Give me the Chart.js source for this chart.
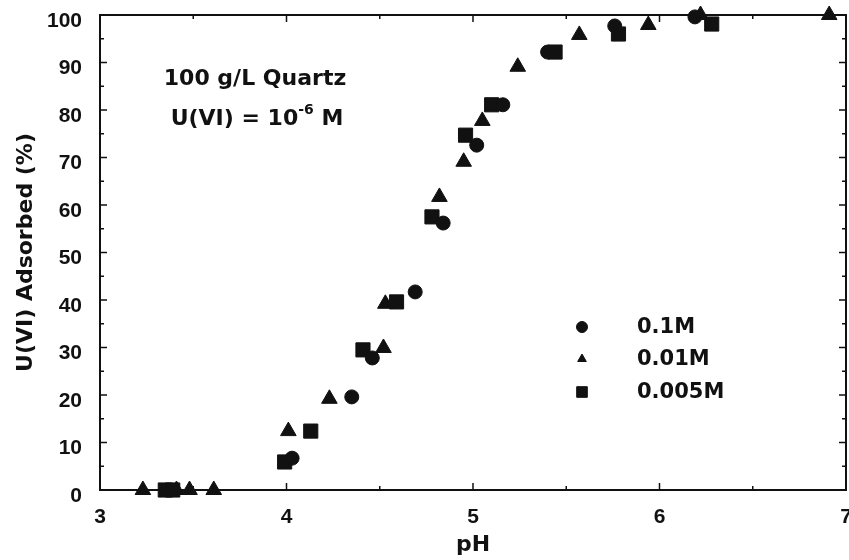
<!DOCTYPE html>
<html>
<head>
<meta charset="utf-8">
<script src="https://cdn.jsdelivr.net/npm/chart.js@4.4.1/dist/chart.umd.min.js"></script>
<style>
  body { margin: 0; background: #fff; }
  canvas { display: block; }
</style>
</head>
<body>
<canvas id="uChart" width="849" height="560"></canvas>
<script>
// U(VI) sorption edges on quartz, three ionic strengths
const ph01M = [4.03, 4.35, 4.46, 4.69, 4.84, 5.02, 5.16, 5.40, 5.76, 6.19];
const ads01M = [6.7, 19.6, 27.8, 41.7, 56.2, 72.6, 81.1, 92.2, 97.7, 99.6];

const ph001M = [3.23, 3.41, 3.48, 3.61, 4.01, 4.23, 4.52, 4.53, 4.82, 4.95, 5.05, 5.24, 5.57, 5.94, 6.22, 6.91];
const ads001M = [0, 0, 0, 0, 12.4, 19.2, 29.9, 39.2, 61.7, 69.1, 77.7, 89.1, 95.8, 97.9, 100, 100];

const ph0005M = [3.35, 3.39, 3.99, 4.13, 4.41, 4.59, 4.78, 4.96, 5.10, 5.44, 5.78, 6.28];
const ads0005M = [0, 0, 5.9, 12.4, 29.5, 39.6, 57.5, 74.7, 81.1, 92.2, 96.0, 98.1];

const seriesLabels = ['0.1M', '0.01M', '0.005M'];
const xTicks = [3, 4, 5, 6, 7];
const yTicks = [0, 10, 20, 30, 40, 50, 60, 70, 80, 90, 100];

const ink = '#111';

function toPoints(xs, ys) {
    return xs.map((x, i) => ({ x: x, y: ys[i] }));
}

// box around the plot with inward tick marks on all four sides
const framePlugin = {
    id: 'frame',
    afterDraw(chart) {
        const { ctx, chartArea: a, scales } = chart;
        ctx.save();
        ctx.strokeStyle = ink;
        ctx.lineWidth = 2;
        ctx.strokeRect(a.left, a.top, a.right - a.left, a.bottom - a.top);
        ctx.lineWidth = 1.5;
        for (let v = 0; v <= 100; v += 5) {
            const py = scales.y.getPixelForValue(v);
            const len = v % 10 === 0 ? 7 : 4;
            ctx.beginPath();
            ctx.moveTo(a.left, py); ctx.lineTo(a.left + len, py);
            ctx.moveTo(a.right, py); ctx.lineTo(a.right - len, py);
            ctx.stroke();
        }
        for (let v = 3; v <= 7; v += 0.5) {
            const px = scales.x.getPixelForValue(v);
            const len = Number.isInteger(v) ? 7 : 4;
            ctx.beginPath();
            ctx.moveTo(px, a.bottom); ctx.lineTo(px, a.bottom - len);
            ctx.moveTo(px, a.top); ctx.lineTo(px, a.top + len);
            ctx.stroke();
        }
        ctx.restore();
    }
};

// sample description and the marker key
const notesPlugin = {
    id: 'notes',
    afterDraw(chart) {
        const ctx = chart.ctx;
        ctx.save();
        ctx.fillStyle = ink;
        ctx.textBaseline = 'middle';
        ctx.font = 'bold 22px "DejaVu Sans"';
        ctx.textAlign = 'center';
        ctx.fillText('100 g/L Quartz', 255, 79);

        ctx.textAlign = 'left';
        const base = 'U(VI) = 10';
        const sup = '-6';
        const tail = ' M';
        ctx.font = 'bold 22px "DejaVu Sans"';
        const wBase = ctx.measureText(base).width;
        const wTail = ctx.measureText(tail).width;
        ctx.font = 'bold 14px "DejaVu Sans"';
        const wSup = ctx.measureText(sup).width;
        let x = 257 - (wBase + wSup + wTail) / 2;
        ctx.font = 'bold 22px "DejaVu Sans"';
        ctx.fillText(base, x, 119);
        x += wBase;
        ctx.font = 'bold 14px "DejaVu Sans"';
        ctx.fillText(sup, x, 110);
        x += wSup;
        ctx.font = 'bold 22px "DejaVu Sans"';
        ctx.fillText(tail, x, 119);

        // key
        const keyY = [327, 359, 392];
        const keyStyle = [
            { pointStyle: 'circle', radius: 5.5 },
            { pointStyle: 'triangle', radius: 5 },
            { pointStyle: 'rect', radius: 7.5 }
        ];
        ctx.font = 'bold 21px "DejaVu Sans"';
        seriesLabels.forEach((label, i) => {
            ctx.fillStyle = ink;
            ctx.strokeStyle = ink;
            ctx.lineWidth = 1;
            Chart.helpers.drawPoint(ctx, {
                pointStyle: keyStyle[i].pointStyle,
                radius: keyStyle[i].radius,
                rotation: 0,
                borderWidth: 1
            }, 582, keyY[i]);
            ctx.fillText(label, 637, keyY[i] + 1);
        });
        ctx.restore();
    }
};

new Chart(document.getElementById('uChart'), {
    type: 'scatter',
    data: {
        datasets: [{
            label: seriesLabels[0],
            data: toPoints(ph01M, ads01M),
            pointStyle: 'circle',
            pointRadius: 7,
            backgroundColor: ink,
            borderColor: ink,
            clip: false
        }, {
            label: seriesLabels[1],
            data: toPoints(ph001M, ads001M),
            pointStyle: 'triangle',
            pointRadius: 9,
            backgroundColor: ink,
            borderColor: ink,
            clip: false
        }, {
            label: seriesLabels[2],
            data: toPoints(ph0005M, ads0005M),
            pointStyle: 'rect',
            pointRadius: 10,
            backgroundColor: ink,
            borderColor: ink,
            clip: false
        }]
    },
    options: {
        responsive: false,
        animation: false,
        layout: { autoPadding: false, padding: { left: 0, right: 3, top: 15, bottom: 0 } },
        plugins: {
            legend: { display: false },
            tooltip: { enabled: false }
        },
        scales: {
            x: {
                type: 'linear',
                min: 3,
                max: 7,
                afterBuildTicks: (scale) => { scale.ticks = xTicks.map(v => ({ value: v })); },
                afterFit: (scale) => {
                    scale.height = 70;
                    scale.paddingLeft = 0;
                    scale.paddingRight = 0;
                },
                grid: { display: false, drawTicks: false },
                border: { display: false },
                ticks: {
                    padding: 15,
                    color: ink,
                    font: { family: '"Liberation Sans"', size: 21, weight: 'bold' }
                },
                title: {
                    display: true,
                    text: 'pH',
                    color: ink,
                    padding: { top: 0, bottom: 2 },
                    font: { family: '"DejaVu Sans"', size: 22, weight: 'bold' }
                }
            },
            y: {
                min: 0,
                max: 100,
                afterBuildTicks: (scale) => { scale.ticks = yTicks.map(v => ({ value: v })); },
                afterFit: (scale) => {
                    scale.width = 100;
                    scale.paddingTop = 0;
                    scale.paddingBottom = 0;
                },
                grid: { display: false, drawTicks: false },
                border: { display: false },
                ticks: {
                    padding: 18,
                    labelOffset: 6,
                    color: ink,
                    font: { family: '"Liberation Sans"', size: 21, weight: 'bold' }
                },
                title: {
                    display: true,
                    text: 'U(VI) Adsorbed (%)',
                    color: ink,
                    padding: { top: 13, bottom: 0 },
                    font: { family: '"DejaVu Sans"', size: 22, weight: 'bold' }
                }
            }
        }
    },
    plugins: [framePlugin, notesPlugin]
});
</script>
</body>
</html>
